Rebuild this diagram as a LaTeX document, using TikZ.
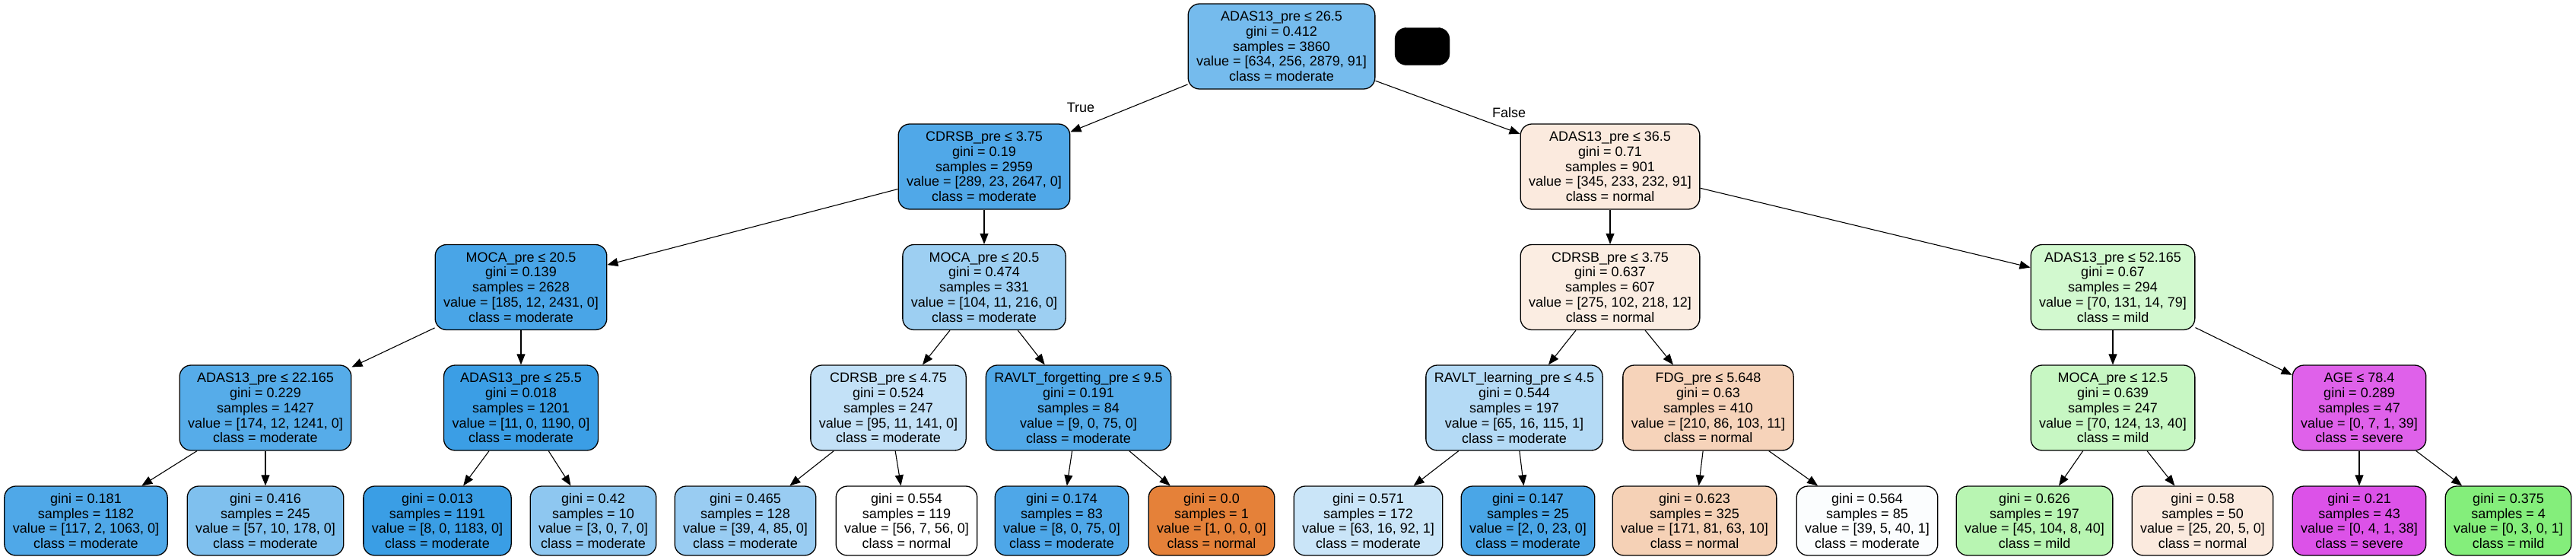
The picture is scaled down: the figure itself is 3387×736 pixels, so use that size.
\documentclass[tikz,border=0pt]{standalone}
\usepackage{fontspec}
\setmainfont{Liberation Sans}
\usetikzlibrary{arrows.meta}
\definecolor{cnormal}{RGB}{229,129,57}
\definecolor{cmild}{RGB}{71,229,57}
\definecolor{cmoderate}{RGB}{57,157,229}
\definecolor{csevere}{RGB}{215,57,229}
\tikzset{
  treebox/.style={draw=black, line width=1.3pt, rounded corners=15pt, align=center,
    inner xsep=11pt, inner ysep=0pt, font=\fontsize{18}{19.8}\selectfont},
  inner/.style={treebox, minimum height=112pt},
  leaf/.style={treebox, minimum height=91pt},
  edge/.style={line width=1.1pt, -{Triangle[length=14pt,width=11pt]}},
  elabel/.style={font=\fontsize{18}{20}\selectfont, inner sep=0pt}
}
\begin{document}
\begin{tikzpicture}[x=1pt,y=1pt]
\useasboundingbox[fill=white] (0,0) rectangle (3387,-736);
% root
\node[inner, fill=cmoderate!69.6!white] (root) at (1685,-61) {ADAS13\_pre ≤ 26.5\\gini = 0.412\\samples = 3860\\value = [634, 256, 2879, 91]\\class = moderate};
\node[draw=black, fill=black, rounded corners=15pt, minimum width=72pt, minimum height=49pt, inner sep=0pt] (blk) at (1870,-61) {};
% level 1
\node[inner, fill=cmoderate!88.3!white] (a) at (1294,-219) {CDRSB\_pre ≤ 3.75\\gini = 0.19\\samples = 2959\\value = [289, 23, 2647, 0]\\class = moderate};
\node[inner, fill=cnormal!16.8!white] (b) at (2117,-219) {ADAS13\_pre ≤ 36.5\\gini = 0.71\\samples = 901\\value = [345, 233, 232, 91]\\class = normal};
% level 2
\node[inner, fill=cmoderate!91.9!white] (aa) at (685,-377.5) {MOCA\_pre ≤ 20.5\\gini = 0.139\\samples = 2628\\value = [185, 12, 2431, 0]\\class = moderate};
\node[inner, fill=cmoderate!49.3!white] (ab) at (1294,-377.5) {MOCA\_pre ≤ 20.5\\gini = 0.474\\samples = 331\\value = [104, 11, 216, 0]\\class = moderate};
\node[inner, fill=cnormal!14.65!white] (ba) at (2117,-377.5) {CDRSB\_pre ≤ 3.75\\gini = 0.637\\samples = 607\\value = [275, 102, 218, 12]\\class = normal};
\node[inner, fill=cmild!24.2!white] (bb) at (2778,-377.5) {ADAS13\_pre ≤ 52.165\\gini = 0.67\\samples = 294\\value = [70, 131, 14, 79]\\class = mild};
% level 3
\node[inner, fill=cmoderate!85.2!white] (aaa) at (349,-536) {ADAS13\_pre ≤ 22.165\\gini = 0.229\\samples = 1427\\value = [174, 12, 1241, 0]\\class = moderate};
\node[inner, fill=cmoderate!99.1!white] (aab) at (685,-536) {ADAS13\_pre ≤ 25.5\\gini = 0.018\\samples = 1201\\value = [11, 0, 1190, 0]\\class = moderate};
\node[inner, fill=cmoderate!30.3!white] (aba) at (1168,-536) {CDRSB\_pre ≤ 4.75\\gini = 0.524\\samples = 247\\value = [95, 11, 141, 0]\\class = moderate};
\node[inner, fill=cmoderate!88!white] (abb) at (1418,-536) {RAVLT\_forgetting\_pre ≤ 9.5\\gini = 0.191\\samples = 84\\value = [9, 0, 75, 0]\\class = moderate};
\node[inner, fill=cmoderate!37.9!white] (baa) at (1991,-536) {RAVLT\_learning\_pre ≤ 4.5\\gini = 0.544\\samples = 197\\value = [65, 16, 115, 1]\\class = moderate};
\node[inner, fill=cnormal!34.85!white] (bab) at (2246,-536) {FDG\_pre ≤ 5.648\\gini = 0.63\\samples = 410\\value = [210, 86, 103, 11]\\class = normal};
\node[inner, fill=cmild!30.5!white] (bba) at (2778,-536) {MOCA\_pre ≤ 12.5\\gini = 0.639\\samples = 247\\value = [70, 124, 13, 40]\\class = mild};
\node[inner, fill=csevere!80!white] (bbb) at (3102,-536) {AGE ≤ 78.4\\gini = 0.289\\samples = 47\\value = [0, 7, 1, 39]\\class = severe};
% leaves
\node[leaf, fill=cmoderate!88.8!white] (l1) at (113,-684.5) {gini = 0.181\\samples = 1182\\value = [117, 2, 1063, 0]\\class = moderate};
\node[leaf, fill=cmoderate!64.4!white] (l2) at (349,-684.5) {gini = 0.416\\samples = 245\\value = [57, 10, 178, 0]\\class = moderate};
\node[leaf, fill=cmoderate!99.3!white] (l3) at (575,-684.5) {gini = 0.013\\samples = 1191\\value = [8, 0, 1183, 0]\\class = moderate};
\node[leaf, fill=cmoderate!57.1!white] (l4) at (780,-684.5) {gini = 0.42\\samples = 10\\value = [3, 0, 7, 0]\\class = moderate};
\node[leaf, fill=cmoderate!51.7!white] (l5) at (980,-684.5) {gini = 0.465\\samples = 128\\value = [39, 4, 85, 0]\\class = moderate};
\node[leaf, fill=white] (l6) at (1192,-684.5) {gini = 0.554\\samples = 119\\value = [56, 7, 56, 0]\\class = normal};
\node[leaf, fill=cmoderate!89.3!white] (l7) at (1396,-684.5) {gini = 0.174\\samples = 83\\value = [8, 0, 75, 0]\\class = moderate};
\node[leaf, fill=cnormal] (l8) at (1593,-684.5) {gini = 0.0\\samples = 1\\value = [1, 0, 0, 0]\\class = normal};
\node[leaf, fill=cmoderate!26.6!white] (l9) at (1799,-684.5) {gini = 0.571\\samples = 172\\value = [63, 16, 92, 1]\\class = moderate};
\node[leaf, fill=cmoderate!91.3!white] (l10) at (2009,-684.5) {gini = 0.147\\samples = 25\\value = [2, 0, 23, 0]\\class = moderate};
\node[leaf, fill=cnormal!36.9!white] (l11) at (2228,-684.5) {gini = 0.623\\samples = 325\\value = [171, 81, 63, 10]\\class = normal};
\node[leaf, fill=cmoderate!2.2!white] (l12) at (2455,-684.5) {gini = 0.564\\samples = 85\\value = [39, 5, 40, 1]\\class = moderate};
\node[leaf, fill=cmild!38.8!white] (l13) at (2675,-684.5) {gini = 0.626\\samples = 197\\value = [45, 104, 8, 40]\\class = mild};
\node[leaf, fill=cnormal!16.7!white] (l14) at (2896,-684.5) {gini = 0.58\\samples = 50\\value = [25, 20, 5, 0]\\class = normal};
\node[leaf, fill=csevere!87.2!white] (l15) at (3102,-684.5) {gini = 0.21\\samples = 43\\value = [0, 4, 1, 38]\\class = severe};
\node[leaf, fill=cmild!66.7!white] (l16) at (3298,-684.5) {gini = 0.375\\samples = 4\\value = [0, 3, 0, 1]\\class = mild};
% edges
\draw[edge] (root) -- (a);
\draw[edge] (root) -- (b);
\draw[edge] (a) -- (aa);
\draw[edge] (a) -- (ab);
\draw[edge] (b) -- (ba);
\draw[edge] (b) -- (bb);
\draw[edge] (aa) -- (aaa);
\draw[edge] (aa) -- (aab);
\draw[edge] (ab) -- (aba);
\draw[edge] (ab) -- (abb);
\draw[edge] (ba) -- (baa);
\draw[edge] (ba) -- (bab);
\draw[edge] (bb) -- (bba);
\draw[edge] (bb) -- (bbb);
\draw[edge] (aaa) -- (l1);
\draw[edge] (aaa) -- (l2);
\draw[edge] (aab) -- (l3);
\draw[edge] (aab) -- (l4);
\draw[edge] (aba) -- (l5);
\draw[edge] (aba) -- (l6);
\draw[edge] (abb) -- (l7);
\draw[edge] (abb) -- (l8);
\draw[edge] (baa) -- (l9);
\draw[edge] (baa) -- (l10);
\draw[edge] (bab) -- (l11);
\draw[edge] (bab) -- (l12);
\draw[edge] (bba) -- (l13);
\draw[edge] (bba) -- (l14);
\draw[edge] (bbb) -- (l15);
\draw[edge] (bbb) -- (l16);
% edge labels
\node[elabel] (tlab) at (1421,-141) {True};
\node[elabel] (flab) at (1984,-148) {False};
\end{tikzpicture}
\end{document}
